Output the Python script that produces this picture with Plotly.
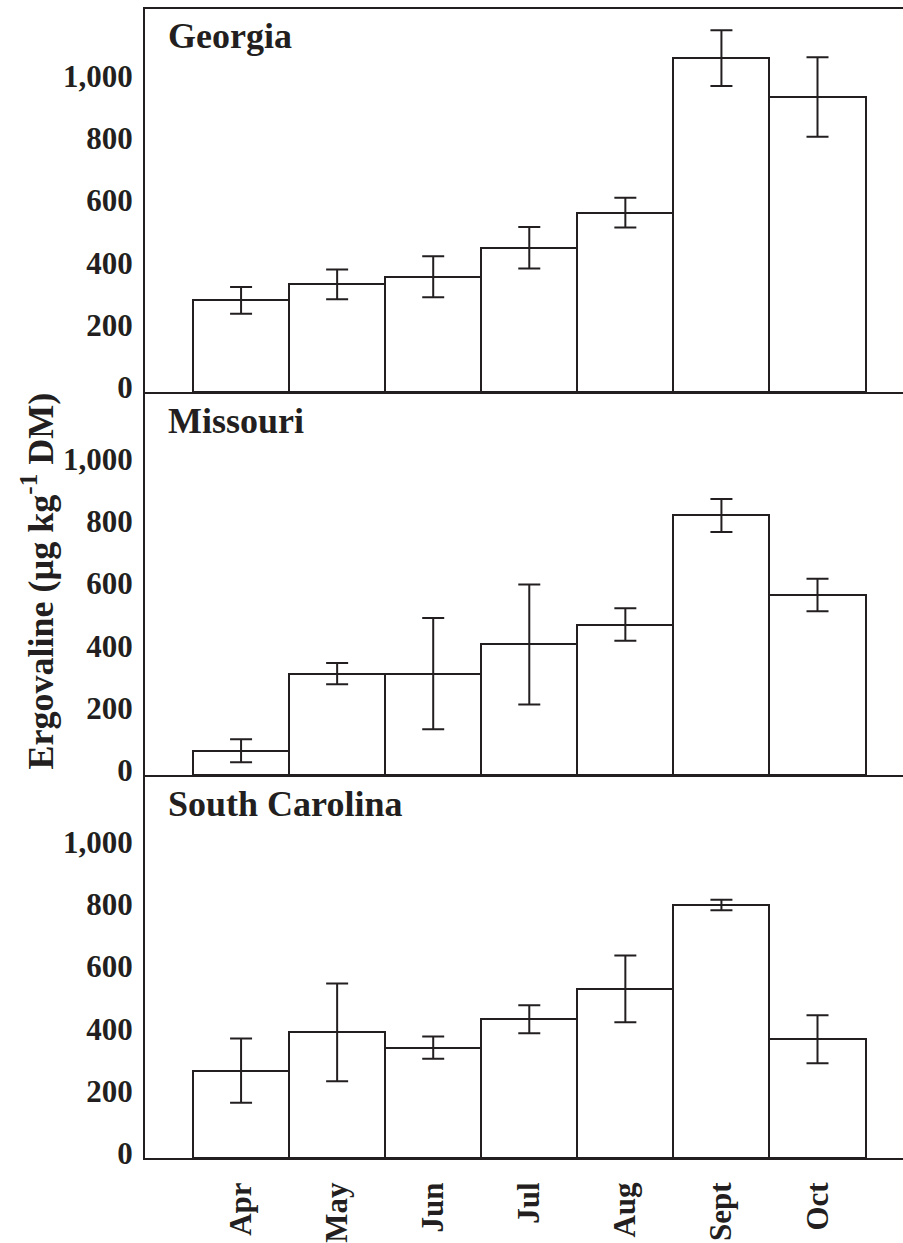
import plotly.graph_objects as go

# Monthly ergovaline concentrations (µg/kg DM) with standard errors, by state
months = ["Apr", "May", "Jun", "Jul", "Aug", "Sept", "Oct"]
states = ["Georgia", "Missouri", "South Carolina"]

georgia_mean = [295, 346, 371, 464, 577, 1074, 949]
georgia_se = [43, 48, 66, 67, 48, 90, 128]

missouri_mean = [78, 326, 326, 420, 484, 835, 579]
missouri_se = [37, 34, 179, 193, 52, 53, 52]

south_carolina_mean = [281, 404, 355, 446, 544, 814, 382]
south_carolina_se = [103, 157, 36, 45, 107, 17, 77]

y_ticks = [0, 200, 400, 600, 800, 1000]

INK = "#231f20"
FONT = "Liberation Serif, Times New Roman, serif"

panels = [
    (georgia_mean, georgia_se),
    (missouri_mean, missouri_se),
    (south_carolina_mean, south_carolina_se),
]

fig = go.Figure()

W, H = 903, 1243
m_l, m_r, m_t, m_b = 145, 0, 9, 82
plot_h = H - m_t - m_b
n = len(panels)

for i, (mean, se) in enumerate(panels):
    ax = "" if i == 0 else str(i + 1)
    fig.add_trace(go.Bar(
        x=list(range(len(months))),
        y=mean,
        xaxis="x" + ax,
        yaxis="y" + ax,
        marker=dict(color="white", line=dict(color=INK, width=2)),
        error_y=dict(type="data", array=se, visible=True,
                     color=INK, thickness=2, width=11),
        showlegend=False,
        hoverinfo="skip",
    ))

    top = 1 - i / n
    bottom = 1 - (i + 1) / n
    last = i == n - 1

    fig.layout["xaxis" + ax] = dict(
        domain=[0, 1],
        anchor="y" + ax,
        range=[-1.0, 6.89],
        tickvals=list(range(len(months))),
        ticktext=months,
        showticklabels=last,
        tickangle=-90,
        ticks="",
        ticklabelstandoff=10,
        tickfont=dict(family=FONT, size=31, color=INK, weight="bold"),
        showline=True,
        linecolor=INK,
        linewidth=2,
        mirror=(i == 0),
        showgrid=False,
        zeroline=False,
        fixedrange=True,
    )
    fig.layout["yaxis" + ax] = dict(
        domain=[bottom, top],
        anchor="x" + ax,
        range=[0, 1232],
        tickvals=y_ticks,
        tickformat=",",
        ticks="",
        ticklabelstandoff=4,
        ticklabelshift=-5,
        tickfont=dict(family=FONT, size=31, color=INK, weight="bold"),
        showline=True,
        linecolor=INK,
        linewidth=2,
        showgrid=False,
        zeroline=False,
        fixedrange=True,
    )

# Panel titles, placed near the top-left of each panel
title_y = [(1161 - 36) / plot_h, (1161 - 422.5) / plot_h, (1161 - 806.5) / plot_h]
for name, yy in zip(states, title_y):
    fig.add_annotation(
        text="<b>%s</b>" % name,
        xref="paper", yref="paper",
        x=21 / (W - m_l - m_r), y=yy,
        xanchor="left", yanchor="middle",
        showarrow=False,
        font=dict(family=FONT, size=36, color=INK),
    )

# Shared y-axis title
fig.add_annotation(
    text="<b>Ergovaline (µg kg<sup>-1</sup> DM)</b>",
    xref="paper", yref="paper",
    x=-(m_l - 38) / (W - m_l - m_r), y=(1161 - 583) / plot_h,
    xanchor="center", yanchor="middle",
    textangle=-90,
    showarrow=False,
    font=dict(family=FONT, size=36, color=INK),
)

fig.update_layout(
    width=W, height=H,
    margin=dict(l=m_l, r=m_r, t=m_t, b=m_b, pad=0),
    bargap=0,
    plot_bgcolor="white",
    paper_bgcolor="white",
    font=dict(family=FONT, color=INK),
)

fig.write_html("out.html")
